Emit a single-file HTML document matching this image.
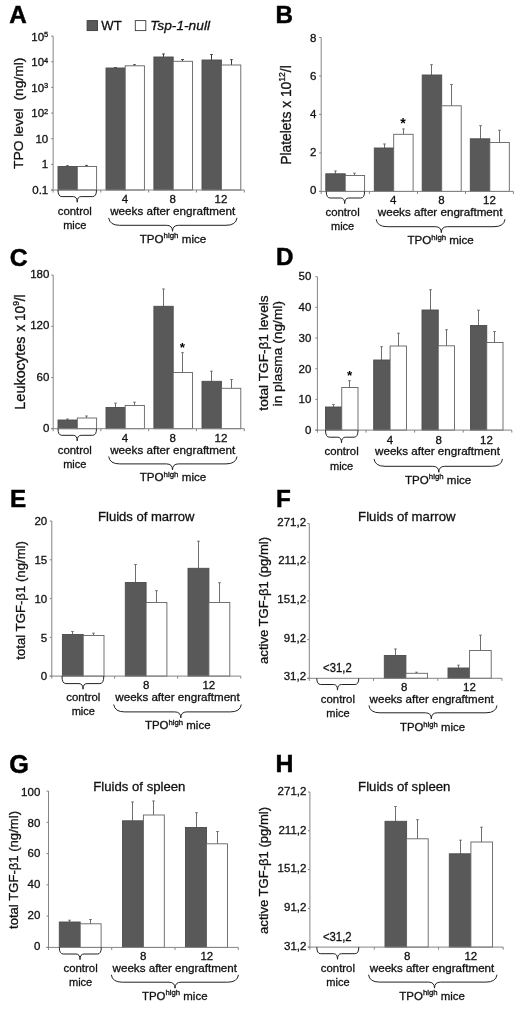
<!DOCTYPE html>
<html lang="en"><head><meta charset="utf-8"><title>Figure</title>
<style>html,body{margin:0;padding:0;background:#fff}svg{display:block}text{font-family:'Liberation Sans', sans-serif}</style>
</head><body>
<svg width="520" height="1010" viewBox="0 0 520 1010">
<rect width="520" height="1010" fill="#fff"/>
<!-- panel A -->
<line x1="67.5" y1="166.5" x2="67.5" y2="165.6" stroke="#3a3a3a" stroke-width="1"/>
<line x1="66.1" y1="165.8" x2="68.9" y2="165.8" stroke="#3a3a3a" stroke-width="0.9"/>
<rect x="58" y="166.5" width="19.3" height="23.5" fill="#595959" stroke="#4c4c4c" stroke-width="0.9"/>
<line x1="86.5" y1="166.5" x2="86.5" y2="165.2" stroke="#3a3a3a" stroke-width="1"/>
<line x1="85.1" y1="165.4" x2="87.9" y2="165.4" stroke="#3a3a3a" stroke-width="0.9"/>
<rect x="77.3" y="166.5" width="19.3" height="23.5" fill="#ffffff" stroke="#636363" stroke-width="0.9"/>
<line x1="115.5" y1="68" x2="115.5" y2="67.3" stroke="#3a3a3a" stroke-width="1"/>
<line x1="114.1" y1="67.5" x2="116.9" y2="67.5" stroke="#3a3a3a" stroke-width="0.9"/>
<rect x="106" y="68" width="19.2" height="122" fill="#595959" stroke="#4c4c4c" stroke-width="0.9"/>
<line x1="134.5" y1="65.8" x2="134.5" y2="64.5" stroke="#3a3a3a" stroke-width="1"/>
<line x1="133.1" y1="64.7" x2="135.9" y2="64.7" stroke="#3a3a3a" stroke-width="0.9"/>
<rect x="125.2" y="65.8" width="19.2" height="124.2" fill="#ffffff" stroke="#636363" stroke-width="0.9"/>
<line x1="163.5" y1="57" x2="163.5" y2="53.8" stroke="#3a3a3a" stroke-width="1"/>
<line x1="162.1" y1="54" x2="164.9" y2="54" stroke="#3a3a3a" stroke-width="0.9"/>
<rect x="153.9" y="57" width="19.3" height="133" fill="#595959" stroke="#4c4c4c" stroke-width="0.9"/>
<line x1="182.5" y1="61.3" x2="182.5" y2="59.3" stroke="#3a3a3a" stroke-width="1"/>
<line x1="181.1" y1="59.5" x2="183.9" y2="59.5" stroke="#3a3a3a" stroke-width="0.9"/>
<rect x="173.2" y="61.3" width="19.3" height="128.7" fill="#ffffff" stroke="#636363" stroke-width="0.9"/>
<line x1="211.5" y1="60" x2="211.5" y2="54.3" stroke="#3a3a3a" stroke-width="1"/>
<line x1="210.1" y1="54.5" x2="212.9" y2="54.5" stroke="#3a3a3a" stroke-width="0.9"/>
<rect x="202" y="60" width="19.4" height="130" fill="#595959" stroke="#4c4c4c" stroke-width="0.9"/>
<line x1="231.5" y1="65" x2="231.5" y2="59.5" stroke="#3a3a3a" stroke-width="1"/>
<line x1="230.1" y1="59.7" x2="232.9" y2="59.7" stroke="#3a3a3a" stroke-width="0.9"/>
<rect x="221.4" y="65" width="19.4" height="125" fill="#ffffff" stroke="#636363" stroke-width="0.9"/>
<line x1="53.15" y1="36.1" x2="53.15" y2="192.6" stroke="#848484" stroke-width="1"/>
<line x1="50.95" y1="190" x2="244.3" y2="190" stroke="#848484" stroke-width="1"/>
<line x1="51.15" y1="36.1" x2="53.15" y2="36.1" stroke="#848484" stroke-width="1"/>
<text x="48.25" y="40.8" font-size="11.5" text-anchor="end" fill="#111111" stroke="#111111" stroke-width="0.3">10<tspan font-size="7.5" dy="-3.7">5</tspan></text>
<line x1="51.15" y1="61.75" x2="53.15" y2="61.75" stroke="#848484" stroke-width="1"/>
<text x="48.25" y="66.27" font-size="11.5" text-anchor="end" fill="#111111" stroke="#111111" stroke-width="0.3">10<tspan font-size="7.5" dy="-3.7">4</tspan></text>
<line x1="51.15" y1="87.4" x2="53.15" y2="87.4" stroke="#848484" stroke-width="1"/>
<text x="48.25" y="91.73" font-size="11.5" text-anchor="end" fill="#111111" stroke="#111111" stroke-width="0.3">10<tspan font-size="7.5" dy="-3.7">3</tspan></text>
<line x1="51.15" y1="113.05" x2="53.15" y2="113.05" stroke="#848484" stroke-width="1"/>
<text x="48.25" y="117.2" font-size="11.5" text-anchor="end" fill="#111111" stroke="#111111" stroke-width="0.3">10<tspan font-size="7.5" dy="-3.7">2</tspan></text>
<line x1="51.15" y1="138.7" x2="53.15" y2="138.7" stroke="#848484" stroke-width="1"/>
<text x="48.25" y="142.67" font-size="11.5" text-anchor="end" fill="#111111" stroke="#111111" stroke-width="0.3">10</text>
<line x1="51.15" y1="164.35" x2="53.15" y2="164.35" stroke="#848484" stroke-width="1"/>
<text x="48.25" y="168.13" font-size="11.5" text-anchor="end" fill="#111111" stroke="#111111" stroke-width="0.3">1</text>
<line x1="51.15" y1="190" x2="53.15" y2="190" stroke="#848484" stroke-width="1"/>
<text x="48.25" y="193.6" font-size="11.5" text-anchor="end" fill="#111111" stroke="#111111" stroke-width="0.3">0.1</text>
<line x1="100.9" y1="190" x2="100.9" y2="192.5" stroke="#848484" stroke-width="1"/>
<line x1="148.7" y1="190" x2="148.7" y2="192.5" stroke="#848484" stroke-width="1"/>
<line x1="196.4" y1="190" x2="196.4" y2="192.5" stroke="#848484" stroke-width="1"/>
<line x1="244.3" y1="190" x2="244.3" y2="192.5" stroke="#848484" stroke-width="1"/>
<text x="9.35" y="23.35" font-size="24.2" text-anchor="start" fill="#000" stroke="#000" stroke-width="0.5" font-weight="bold">A</text>
<text x="23.5" y="113.3" font-size="13.5" text-anchor="middle" fill="#111111" stroke="#111111" stroke-width="0.3" textLength="111.5" lengthAdjust="spacingAndGlyphs" transform="rotate(-90 23.5 113.3)">TPO level&#160; (ng/ml)</text>
<path d="M58,190 Q58,196.6 61.9,196.6 L73.2,196.6 Q77.2,196.6 77.2,202.2 Q77.2,196.6 81.2,196.6 L92.6,196.6 Q96.5,196.6 96.5,190" fill="none" stroke="#222" stroke-width="1"/>
<text x="74.8" y="214.5" font-size="11.5" text-anchor="middle" fill="#111111" stroke="#111111" stroke-width="0.3" textLength="34.2" lengthAdjust="spacingAndGlyphs">control</text>
<text x="74.8" y="228.8" font-size="11.5" text-anchor="middle" fill="#111111" stroke="#111111" stroke-width="0.3" textLength="23.3" lengthAdjust="spacingAndGlyphs">mice</text>
<text x="125" y="202.8" font-size="11.5" text-anchor="middle" fill="#111111" stroke="#111111" stroke-width="0.3">4</text>
<text x="172.7" y="202.8" font-size="11.5" text-anchor="middle" fill="#111111" stroke="#111111" stroke-width="0.3">8</text>
<text x="221" y="202.8" font-size="11.5" text-anchor="middle" fill="#111111" stroke="#111111" stroke-width="0.3">12</text>
<text x="110.2" y="214.9" font-size="11.5" text-anchor="start" fill="#111111" stroke="#111111" stroke-width="0.3" textLength="125.1" lengthAdjust="spacingAndGlyphs">weeks after engraftment</text>
<path d="M108.7,217.9 Q109.7,225.3 119.7,225.3 L166.5,225.3 Q172.5,225.3 172.5,231.3 Q172.5,225.3 178.5,225.3 L226,225.3 Q236,225.3 237,217.9" fill="none" stroke="#222" stroke-width="1"/>
<text x="139.7" y="242.6" font-size="11.5" text-anchor="start" fill="#111111" stroke="#111111" stroke-width="0.3" textLength="66.6" lengthAdjust="spacingAndGlyphs">TPO<tspan font-size="7.8" dy="-4.2">high</tspan><tspan dy="4.2"> mice</tspan></text>
<rect x="87.1" y="20.6" width="10.4" height="10" fill="#595959" stroke="#3c3c3c" stroke-width="0.9"/>
<text x="101.3" y="30.2" font-size="13" text-anchor="start" fill="#111111" stroke="#111111" stroke-width="0.3" textLength="20.4" lengthAdjust="spacingAndGlyphs">WT</text>
<rect x="135.3" y="20.6" width="10.5" height="10" fill="#fff" stroke="#3c3c3c" stroke-width="0.9"/>
<text x="150.2" y="30.2" font-size="13" text-anchor="start" fill="#111111" stroke="#111111" stroke-width="0.3" textLength="59.8" lengthAdjust="spacingAndGlyphs" font-style="italic">Tsp-1-null</text>
<!-- panel B -->
<line x1="335.5" y1="173.8" x2="335.5" y2="170.8" stroke="#6e6e6e" stroke-width="1"/>
<line x1="334.1" y1="171" x2="336.9" y2="171" stroke="#6e6e6e" stroke-width="0.9"/>
<rect x="325.8" y="173.8" width="19.4" height="17.6" fill="#595959" stroke="#4c4c4c" stroke-width="0.9"/>
<line x1="354.5" y1="175.5" x2="354.5" y2="173" stroke="#6e6e6e" stroke-width="1"/>
<line x1="353.1" y1="173.2" x2="355.9" y2="173.2" stroke="#6e6e6e" stroke-width="0.9"/>
<rect x="345.2" y="175.5" width="19.4" height="15.9" fill="#ffffff" stroke="#636363" stroke-width="0.9"/>
<line x1="384.5" y1="148" x2="384.5" y2="143.8" stroke="#6e6e6e" stroke-width="1"/>
<line x1="383.1" y1="144" x2="385.9" y2="144" stroke="#6e6e6e" stroke-width="0.9"/>
<rect x="374.3" y="148" width="19.4" height="43.4" fill="#595959" stroke="#4c4c4c" stroke-width="0.9"/>
<line x1="403.5" y1="134.3" x2="403.5" y2="128.8" stroke="#6e6e6e" stroke-width="1"/>
<line x1="402.1" y1="129" x2="404.9" y2="129" stroke="#6e6e6e" stroke-width="0.9"/>
<rect x="393.7" y="134.3" width="19.4" height="57.1" fill="#ffffff" stroke="#636363" stroke-width="0.9"/>
<line x1="431.5" y1="75" x2="431.5" y2="64.5" stroke="#6e6e6e" stroke-width="1"/>
<line x1="430.1" y1="64.7" x2="432.9" y2="64.7" stroke="#6e6e6e" stroke-width="0.9"/>
<rect x="422.2" y="75" width="19.5" height="116.4" fill="#595959" stroke="#4c4c4c" stroke-width="0.9"/>
<line x1="451.5" y1="105.8" x2="451.5" y2="84.3" stroke="#6e6e6e" stroke-width="1"/>
<line x1="450.1" y1="84.5" x2="452.9" y2="84.5" stroke="#6e6e6e" stroke-width="0.9"/>
<rect x="441.7" y="105.8" width="19.5" height="85.6" fill="#ffffff" stroke="#636363" stroke-width="0.9"/>
<line x1="480.5" y1="138.8" x2="480.5" y2="125.5" stroke="#6e6e6e" stroke-width="1"/>
<line x1="479.1" y1="125.7" x2="481.9" y2="125.7" stroke="#6e6e6e" stroke-width="0.9"/>
<rect x="470.3" y="138.8" width="19.5" height="52.6" fill="#595959" stroke="#4c4c4c" stroke-width="0.9"/>
<line x1="499.5" y1="142.5" x2="499.5" y2="130" stroke="#6e6e6e" stroke-width="1"/>
<line x1="498.1" y1="130.2" x2="500.9" y2="130.2" stroke="#6e6e6e" stroke-width="0.9"/>
<rect x="489.8" y="142.5" width="19.5" height="48.9" fill="#ffffff" stroke="#636363" stroke-width="0.9"/>
<line x1="321.2" y1="37.5" x2="321.2" y2="194" stroke="#848484" stroke-width="1"/>
<line x1="319" y1="191.4" x2="513.4" y2="191.4" stroke="#848484" stroke-width="1"/>
<line x1="319.2" y1="37.5" x2="321.2" y2="37.5" stroke="#848484" stroke-width="1"/>
<text x="316.3" y="41.5" font-size="11.5" text-anchor="end" fill="#111111" stroke="#111111" stroke-width="0.3">8</text>
<line x1="319.2" y1="75.97" x2="321.2" y2="75.97" stroke="#848484" stroke-width="1"/>
<text x="316.3" y="79.67" font-size="11.5" text-anchor="end" fill="#111111" stroke="#111111" stroke-width="0.3">6</text>
<line x1="319.2" y1="114.45" x2="321.2" y2="114.45" stroke="#848484" stroke-width="1"/>
<text x="316.3" y="117.85" font-size="11.5" text-anchor="end" fill="#111111" stroke="#111111" stroke-width="0.3">4</text>
<line x1="319.2" y1="152.93" x2="321.2" y2="152.93" stroke="#848484" stroke-width="1"/>
<text x="316.3" y="156.02" font-size="11.5" text-anchor="end" fill="#111111" stroke="#111111" stroke-width="0.3">2</text>
<line x1="319.2" y1="191.4" x2="321.2" y2="191.4" stroke="#848484" stroke-width="1"/>
<text x="316.3" y="194.2" font-size="11.5" text-anchor="end" fill="#111111" stroke="#111111" stroke-width="0.3">0</text>
<line x1="369.4" y1="191.4" x2="369.4" y2="193.9" stroke="#848484" stroke-width="1"/>
<line x1="417.5" y1="191.4" x2="417.5" y2="193.9" stroke="#848484" stroke-width="1"/>
<line x1="465.5" y1="191.4" x2="465.5" y2="193.9" stroke="#848484" stroke-width="1"/>
<line x1="513.4" y1="191.4" x2="513.4" y2="193.9" stroke="#848484" stroke-width="1"/>
<text x="275.5" y="22.85" font-size="24.2" text-anchor="start" fill="#000" stroke="#000" stroke-width="0.5" font-weight="bold">B</text>
<text x="290.9" y="115" font-size="15" text-anchor="middle" fill="#111111" stroke="#111111" stroke-width="0.3" textLength="99.5" lengthAdjust="spacingAndGlyphs" transform="rotate(-90 290.9 115)">Platelets x 10<tspan font-size="9.3" dy="-5.6">12</tspan><tspan dy="5.6">/l</tspan></text>
<path d="M326.3,191.4 Q326.3,198 330.2,198 L340.7,198 Q344.7,198 344.7,203.6 Q344.7,198 348.7,198 L360.7,198 Q364.6,198 364.6,191.4" fill="none" stroke="#222" stroke-width="1"/>
<text x="342.6" y="215.9" font-size="11.5" text-anchor="middle" fill="#111111" stroke="#111111" stroke-width="0.3" textLength="34.2" lengthAdjust="spacingAndGlyphs">control</text>
<text x="342.6" y="230.1" font-size="11.5" text-anchor="middle" fill="#111111" stroke="#111111" stroke-width="0.3" textLength="23.3" lengthAdjust="spacingAndGlyphs">mice</text>
<text x="393.3" y="204.3" font-size="11.5" text-anchor="middle" fill="#111111" stroke="#111111" stroke-width="0.3">4</text>
<text x="441.5" y="204.3" font-size="11.5" text-anchor="middle" fill="#111111" stroke="#111111" stroke-width="0.3">8</text>
<text x="489.5" y="204.3" font-size="11.5" text-anchor="middle" fill="#111111" stroke="#111111" stroke-width="0.3">12</text>
<text x="377.8" y="216.1" font-size="11.5" text-anchor="start" fill="#111111" stroke="#111111" stroke-width="0.3" textLength="124.7" lengthAdjust="spacingAndGlyphs">weeks after engraftment</text>
<path d="M376.2,219.3 Q377.2,226.7 387.2,226.7 L435.3,226.7 Q441.3,226.7 441.3,232.7 Q441.3,226.7 447.3,226.7 L494,226.7 Q504,226.7 505,219.3" fill="none" stroke="#222" stroke-width="1"/>
<text x="407.5" y="244.1" font-size="11.5" text-anchor="start" fill="#111111" stroke="#111111" stroke-width="0.3" textLength="66.3" lengthAdjust="spacingAndGlyphs">TPO<tspan font-size="7.8" dy="-4.2">high</tspan><tspan dy="4.2"> mice</tspan></text>
<text x="402.9" y="128.33" font-size="14.2" text-anchor="middle" fill="#000" font-weight="bold">*</text>
<!-- panel C -->
<line x1="67.5" y1="420" x2="67.5" y2="418.8" stroke="#6e6e6e" stroke-width="1"/>
<line x1="66.1" y1="419" x2="68.9" y2="419" stroke="#6e6e6e" stroke-width="0.9"/>
<rect x="58" y="420" width="19.3" height="8.7" fill="#595959" stroke="#4c4c4c" stroke-width="0.9"/>
<line x1="86.5" y1="418" x2="86.5" y2="415.8" stroke="#6e6e6e" stroke-width="1"/>
<line x1="85.1" y1="416" x2="87.9" y2="416" stroke="#6e6e6e" stroke-width="0.9"/>
<rect x="77.3" y="418" width="19.3" height="10.7" fill="#ffffff" stroke="#636363" stroke-width="0.9"/>
<line x1="115.5" y1="407.5" x2="115.5" y2="403" stroke="#6e6e6e" stroke-width="1"/>
<line x1="114.1" y1="403.2" x2="116.9" y2="403.2" stroke="#6e6e6e" stroke-width="0.9"/>
<rect x="106" y="407.5" width="19.2" height="21.2" fill="#595959" stroke="#4c4c4c" stroke-width="0.9"/>
<line x1="134.5" y1="405.5" x2="134.5" y2="402" stroke="#6e6e6e" stroke-width="1"/>
<line x1="133.1" y1="402.2" x2="135.9" y2="402.2" stroke="#6e6e6e" stroke-width="0.9"/>
<rect x="125.2" y="405.5" width="19.2" height="23.2" fill="#ffffff" stroke="#636363" stroke-width="0.9"/>
<line x1="163.5" y1="306.3" x2="163.5" y2="288.8" stroke="#6e6e6e" stroke-width="1"/>
<line x1="162.1" y1="289" x2="164.9" y2="289" stroke="#6e6e6e" stroke-width="0.9"/>
<rect x="153.9" y="306.3" width="19.3" height="122.4" fill="#595959" stroke="#4c4c4c" stroke-width="0.9"/>
<line x1="182.5" y1="372.5" x2="182.5" y2="352.5" stroke="#6e6e6e" stroke-width="1"/>
<line x1="181.1" y1="352.7" x2="183.9" y2="352.7" stroke="#6e6e6e" stroke-width="0.9"/>
<rect x="173.2" y="372.5" width="19.3" height="56.2" fill="#ffffff" stroke="#636363" stroke-width="0.9"/>
<line x1="211.5" y1="381.3" x2="211.5" y2="371" stroke="#6e6e6e" stroke-width="1"/>
<line x1="210.1" y1="371.2" x2="212.9" y2="371.2" stroke="#6e6e6e" stroke-width="0.9"/>
<rect x="202" y="381.3" width="19.4" height="47.4" fill="#595959" stroke="#4c4c4c" stroke-width="0.9"/>
<line x1="231.5" y1="388.3" x2="231.5" y2="379.3" stroke="#6e6e6e" stroke-width="1"/>
<line x1="230.1" y1="379.5" x2="232.9" y2="379.5" stroke="#6e6e6e" stroke-width="0.9"/>
<rect x="221.4" y="388.3" width="19.4" height="40.4" fill="#ffffff" stroke="#636363" stroke-width="0.9"/>
<line x1="53.2" y1="275.1" x2="53.2" y2="431.3" stroke="#848484" stroke-width="1"/>
<line x1="51" y1="428.7" x2="244.3" y2="428.7" stroke="#848484" stroke-width="1"/>
<line x1="51.2" y1="275.1" x2="53.2" y2="275.1" stroke="#848484" stroke-width="1"/>
<text x="49.4" y="277.7" font-size="11.5" text-anchor="end" fill="#111111" stroke="#111111" stroke-width="0.3">180</text>
<line x1="51.2" y1="326.3" x2="53.2" y2="326.3" stroke="#848484" stroke-width="1"/>
<text x="49.4" y="329.1" font-size="11.5" text-anchor="end" fill="#111111" stroke="#111111" stroke-width="0.3">120</text>
<line x1="51.2" y1="377.5" x2="53.2" y2="377.5" stroke="#848484" stroke-width="1"/>
<text x="49.4" y="380.5" font-size="11.5" text-anchor="end" fill="#111111" stroke="#111111" stroke-width="0.3">60</text>
<line x1="51.2" y1="428.7" x2="53.2" y2="428.7" stroke="#848484" stroke-width="1"/>
<text x="49.4" y="431.9" font-size="11.5" text-anchor="end" fill="#111111" stroke="#111111" stroke-width="0.3">0</text>
<line x1="100.9" y1="428.7" x2="100.9" y2="431.2" stroke="#848484" stroke-width="1"/>
<line x1="148.7" y1="428.7" x2="148.7" y2="431.2" stroke="#848484" stroke-width="1"/>
<line x1="196.4" y1="428.7" x2="196.4" y2="431.2" stroke="#848484" stroke-width="1"/>
<line x1="244.3" y1="428.7" x2="244.3" y2="431.2" stroke="#848484" stroke-width="1"/>
<text x="9.65" y="265.9" font-size="24.8" text-anchor="start" fill="#000" stroke="#000" stroke-width="0.5" font-weight="bold">C</text>
<text x="24.7" y="373.1" font-size="14.2" text-anchor="middle" fill="#111111" stroke="#111111" stroke-width="0.3" textLength="73.2" lengthAdjust="spacingAndGlyphs" transform="rotate(-90 24.7 373.1)">Leukocytes</text>
<text x="24.7" y="312.9" font-size="14.2" text-anchor="middle" fill="#111111" stroke="#111111" stroke-width="0.3" textLength="37" lengthAdjust="spacingAndGlyphs" transform="rotate(-90 24.7 312.9)">x 10<tspan font-size="8.8" dy="-5.6">9</tspan><tspan dy="5.6">/l</tspan></text>
<path d="M58,428.7 Q58,435.3 61.9,435.3 L73.2,435.3 Q77.2,435.3 77.2,440.9 Q77.2,435.3 81.2,435.3 L92.6,435.3 Q96.5,435.3 96.5,428.7" fill="none" stroke="#222" stroke-width="1"/>
<text x="74.8" y="453.9" font-size="11.5" text-anchor="middle" fill="#111111" stroke="#111111" stroke-width="0.3" textLength="34.2" lengthAdjust="spacingAndGlyphs">control</text>
<text x="74.8" y="467.9" font-size="11.5" text-anchor="middle" fill="#111111" stroke="#111111" stroke-width="0.3" textLength="23.3" lengthAdjust="spacingAndGlyphs">mice</text>
<text x="125" y="441.5" font-size="11.5" text-anchor="middle" fill="#111111" stroke="#111111" stroke-width="0.3">4</text>
<text x="172.7" y="441.5" font-size="11.5" text-anchor="middle" fill="#111111" stroke="#111111" stroke-width="0.3">8</text>
<text x="221" y="441.5" font-size="11.5" text-anchor="middle" fill="#111111" stroke="#111111" stroke-width="0.3">12</text>
<text x="110.2" y="453.6" font-size="11.5" text-anchor="start" fill="#111111" stroke="#111111" stroke-width="0.3" textLength="125.1" lengthAdjust="spacingAndGlyphs">weeks after engraftment</text>
<path d="M108.7,456.5 Q109.7,463.9 119.7,463.9 L166.5,463.9 Q172.5,463.9 172.5,469.9 Q172.5,463.9 178.5,463.9 L226,463.9 Q236,463.9 237,456.5" fill="none" stroke="#222" stroke-width="1"/>
<text x="139.7" y="481.3" font-size="11.5" text-anchor="start" fill="#111111" stroke="#111111" stroke-width="0.3" textLength="66.6" lengthAdjust="spacingAndGlyphs">TPO<tspan font-size="7.8" dy="-4.2">high</tspan><tspan dy="4.2"> mice</tspan></text>
<text x="182.5" y="351.56" font-size="13.5" text-anchor="middle" fill="#000" font-weight="bold">*</text>
<!-- panel D -->
<line x1="333.5" y1="407" x2="333.5" y2="404.3" stroke="#6e6e6e" stroke-width="1"/>
<line x1="332.1" y1="404.5" x2="334.9" y2="404.5" stroke="#6e6e6e" stroke-width="0.9"/>
<rect x="325.5" y="407" width="16.25" height="23.1" fill="#595959" stroke="#4c4c4c" stroke-width="0.9"/>
<line x1="349.5" y1="387.5" x2="349.5" y2="380.5" stroke="#6e6e6e" stroke-width="1"/>
<line x1="348.1" y1="380.7" x2="350.9" y2="380.7" stroke="#6e6e6e" stroke-width="0.9"/>
<rect x="341.75" y="387.5" width="16.25" height="42.6" fill="#ffffff" stroke="#636363" stroke-width="0.9"/>
<line x1="381.5" y1="360" x2="381.5" y2="346.5" stroke="#6e6e6e" stroke-width="1"/>
<line x1="380.1" y1="346.7" x2="382.9" y2="346.7" stroke="#6e6e6e" stroke-width="0.9"/>
<rect x="373.7" y="360" width="16.4" height="70.1" fill="#595959" stroke="#4c4c4c" stroke-width="0.9"/>
<line x1="398.5" y1="346" x2="398.5" y2="333" stroke="#6e6e6e" stroke-width="1"/>
<line x1="397.1" y1="333.2" x2="399.9" y2="333.2" stroke="#6e6e6e" stroke-width="0.9"/>
<rect x="390.1" y="346" width="16.4" height="84.1" fill="#ffffff" stroke="#636363" stroke-width="0.9"/>
<line x1="430.5" y1="310" x2="430.5" y2="289.5" stroke="#6e6e6e" stroke-width="1"/>
<line x1="429.1" y1="289.7" x2="431.9" y2="289.7" stroke="#6e6e6e" stroke-width="0.9"/>
<rect x="422" y="310" width="16.25" height="120.1" fill="#595959" stroke="#4c4c4c" stroke-width="0.9"/>
<line x1="446.5" y1="345.8" x2="446.5" y2="329.5" stroke="#6e6e6e" stroke-width="1"/>
<line x1="445.1" y1="329.7" x2="447.9" y2="329.7" stroke="#6e6e6e" stroke-width="0.9"/>
<rect x="438.25" y="345.8" width="16.25" height="84.3" fill="#ffffff" stroke="#636363" stroke-width="0.9"/>
<line x1="478.5" y1="325.5" x2="478.5" y2="310" stroke="#6e6e6e" stroke-width="1"/>
<line x1="477.1" y1="310.2" x2="479.9" y2="310.2" stroke="#6e6e6e" stroke-width="0.9"/>
<rect x="470.5" y="325.5" width="16.25" height="104.6" fill="#595959" stroke="#4c4c4c" stroke-width="0.9"/>
<line x1="494.5" y1="342.5" x2="494.5" y2="331.3" stroke="#6e6e6e" stroke-width="1"/>
<line x1="493.1" y1="331.5" x2="495.9" y2="331.5" stroke="#6e6e6e" stroke-width="0.9"/>
<rect x="486.75" y="342.5" width="16.25" height="87.6" fill="#ffffff" stroke="#636363" stroke-width="0.9"/>
<line x1="317.4" y1="276.7" x2="317.4" y2="432.7" stroke="#848484" stroke-width="1"/>
<line x1="315.2" y1="430.1" x2="511.8" y2="430.1" stroke="#848484" stroke-width="1"/>
<line x1="315.4" y1="276.7" x2="317.4" y2="276.7" stroke="#848484" stroke-width="1"/>
<text x="311.4" y="280.2" font-size="11.5" text-anchor="end" fill="#111111" stroke="#111111" stroke-width="0.3">50</text>
<line x1="315.4" y1="307.38" x2="317.4" y2="307.38" stroke="#848484" stroke-width="1"/>
<text x="311.4" y="310.98" font-size="11.5" text-anchor="end" fill="#111111" stroke="#111111" stroke-width="0.3">40</text>
<line x1="315.4" y1="338.06" x2="317.4" y2="338.06" stroke="#848484" stroke-width="1"/>
<text x="311.4" y="341.76" font-size="11.5" text-anchor="end" fill="#111111" stroke="#111111" stroke-width="0.3">30</text>
<line x1="315.4" y1="368.74" x2="317.4" y2="368.74" stroke="#848484" stroke-width="1"/>
<text x="311.4" y="372.54" font-size="11.5" text-anchor="end" fill="#111111" stroke="#111111" stroke-width="0.3">20</text>
<line x1="315.4" y1="399.42" x2="317.4" y2="399.42" stroke="#848484" stroke-width="1"/>
<text x="311.4" y="403.32" font-size="11.5" text-anchor="end" fill="#111111" stroke="#111111" stroke-width="0.3">10</text>
<line x1="315.4" y1="430.1" x2="317.4" y2="430.1" stroke="#848484" stroke-width="1"/>
<text x="311.4" y="434.1" font-size="11.5" text-anchor="end" fill="#111111" stroke="#111111" stroke-width="0.3">0</text>
<line x1="366" y1="430.1" x2="366" y2="432.6" stroke="#848484" stroke-width="1"/>
<line x1="414.6" y1="430.1" x2="414.6" y2="432.6" stroke="#848484" stroke-width="1"/>
<line x1="463.2" y1="430.1" x2="463.2" y2="432.6" stroke="#848484" stroke-width="1"/>
<line x1="511.8" y1="430.1" x2="511.8" y2="432.6" stroke="#848484" stroke-width="1"/>
<text x="276.1" y="265.2" font-size="24.2" text-anchor="start" fill="#000" stroke="#000" stroke-width="0.5" font-weight="bold">D</text>
<text x="267.6" y="353" font-size="13.4" text-anchor="middle" fill="#111111" stroke="#111111" stroke-width="0.3" textLength="115.3" lengthAdjust="spacingAndGlyphs" transform="rotate(-90 267.6 353)">total TGF-β1 levels</text>
<text x="282.4" y="353.7" font-size="13.4" text-anchor="middle" fill="#111111" stroke="#111111" stroke-width="0.3" textLength="105.4" lengthAdjust="spacingAndGlyphs" transform="rotate(-90 282.4 353.7)">in plasma (ng/ml)</text>
<path d="M325.5,430.1 Q325.5,437.2 329.4,437.2 L337.5,437.2 Q341.5,437.2 341.5,442.8 Q341.5,437.2 345.5,437.2 L354.1,437.2 Q358,437.2 358,430.1" fill="none" stroke="#222" stroke-width="1"/>
<text x="341.6" y="455.2" font-size="11.5" text-anchor="middle" fill="#111111" stroke="#111111" stroke-width="0.3" textLength="34.2" lengthAdjust="spacingAndGlyphs">control</text>
<text x="341.6" y="469.9" font-size="11.5" text-anchor="middle" fill="#111111" stroke="#111111" stroke-width="0.3" textLength="23.3" lengthAdjust="spacingAndGlyphs">mice</text>
<text x="390" y="443.5" font-size="11.5" text-anchor="middle" fill="#111111" stroke="#111111" stroke-width="0.3">4</text>
<text x="438.6" y="443.5" font-size="11.5" text-anchor="middle" fill="#111111" stroke="#111111" stroke-width="0.3">8</text>
<text x="486.5" y="443.5" font-size="11.5" text-anchor="middle" fill="#111111" stroke="#111111" stroke-width="0.3">12</text>
<text x="375" y="455.4" font-size="11.5" text-anchor="start" fill="#111111" stroke="#111111" stroke-width="0.3" textLength="125" lengthAdjust="spacingAndGlyphs">weeks after engraftment</text>
<path d="M374,458.9 Q375,466.3 385,466.3 L432.8,466.3 Q438.8,466.3 438.8,472.3 Q438.8,466.3 444.8,466.3 L491.5,466.3 Q501.5,466.3 502.5,458.9" fill="none" stroke="#222" stroke-width="1"/>
<text x="405" y="483.5" font-size="11.5" text-anchor="start" fill="#111111" stroke="#111111" stroke-width="0.3" textLength="66.3" lengthAdjust="spacingAndGlyphs">TPO<tspan font-size="7.8" dy="-4.2">high</tspan><tspan dy="4.2"> mice</tspan></text>
<text x="349.6" y="380.16" font-size="13.5" text-anchor="middle" fill="#000" font-weight="bold">*</text>
<!-- panel E -->
<line x1="72.5" y1="634.5" x2="72.5" y2="631.3" stroke="#6e6e6e" stroke-width="1"/>
<line x1="71.1" y1="631.5" x2="73.9" y2="631.5" stroke="#6e6e6e" stroke-width="0.9"/>
<rect x="62.4" y="634.5" width="20.8" height="41.6" fill="#595959" stroke="#4c4c4c" stroke-width="0.9"/>
<line x1="93.5" y1="635.5" x2="93.5" y2="633" stroke="#6e6e6e" stroke-width="1"/>
<line x1="92.1" y1="633.2" x2="94.9" y2="633.2" stroke="#6e6e6e" stroke-width="0.9"/>
<rect x="83.2" y="635.5" width="20.8" height="40.6" fill="#ffffff" stroke="#636363" stroke-width="0.9"/>
<line x1="135.5" y1="582.5" x2="135.5" y2="564.3" stroke="#6e6e6e" stroke-width="1"/>
<line x1="134.1" y1="564.5" x2="136.9" y2="564.5" stroke="#6e6e6e" stroke-width="0.9"/>
<rect x="125.3" y="582.5" width="20.8" height="93.6" fill="#595959" stroke="#4c4c4c" stroke-width="0.9"/>
<line x1="156.5" y1="602.5" x2="156.5" y2="590.5" stroke="#6e6e6e" stroke-width="1"/>
<line x1="155.1" y1="590.7" x2="157.9" y2="590.7" stroke="#6e6e6e" stroke-width="0.9"/>
<rect x="146.1" y="602.5" width="20.8" height="73.6" fill="#ffffff" stroke="#636363" stroke-width="0.9"/>
<line x1="198.5" y1="568.3" x2="198.5" y2="541" stroke="#6e6e6e" stroke-width="1"/>
<line x1="197.1" y1="541.2" x2="199.9" y2="541.2" stroke="#6e6e6e" stroke-width="0.9"/>
<rect x="188" y="568.3" width="20.9" height="107.8" fill="#595959" stroke="#4c4c4c" stroke-width="0.9"/>
<line x1="219.5" y1="602.5" x2="219.5" y2="582.5" stroke="#6e6e6e" stroke-width="1"/>
<line x1="218.1" y1="582.7" x2="220.9" y2="582.7" stroke="#6e6e6e" stroke-width="0.9"/>
<rect x="208.9" y="602.5" width="20.9" height="73.6" fill="#ffffff" stroke="#636363" stroke-width="0.9"/>
<line x1="51.8" y1="521.05" x2="51.8" y2="678.7" stroke="#848484" stroke-width="1"/>
<line x1="49.6" y1="676.1" x2="240.8" y2="676.1" stroke="#848484" stroke-width="1"/>
<line x1="49.8" y1="521.05" x2="51.8" y2="521.05" stroke="#848484" stroke-width="1"/>
<text x="47.2" y="525.3" font-size="11.5" text-anchor="end" fill="#111111" stroke="#111111" stroke-width="0.3">20</text>
<line x1="49.8" y1="559.81" x2="51.8" y2="559.81" stroke="#848484" stroke-width="1"/>
<text x="47.2" y="564.05" font-size="11.5" text-anchor="end" fill="#111111" stroke="#111111" stroke-width="0.3">15</text>
<line x1="49.8" y1="598.58" x2="51.8" y2="598.58" stroke="#848484" stroke-width="1"/>
<text x="47.2" y="602.8" font-size="11.5" text-anchor="end" fill="#111111" stroke="#111111" stroke-width="0.3">10</text>
<line x1="49.8" y1="637.34" x2="51.8" y2="637.34" stroke="#848484" stroke-width="1"/>
<text x="47.2" y="641.55" font-size="11.5" text-anchor="end" fill="#111111" stroke="#111111" stroke-width="0.3">5</text>
<line x1="49.8" y1="676.1" x2="51.8" y2="676.1" stroke="#848484" stroke-width="1"/>
<text x="47.2" y="680.3" font-size="11.5" text-anchor="end" fill="#111111" stroke="#111111" stroke-width="0.3">0</text>
<line x1="114.6" y1="676.1" x2="114.6" y2="678.6" stroke="#848484" stroke-width="1"/>
<line x1="177.6" y1="676.1" x2="177.6" y2="678.6" stroke="#848484" stroke-width="1"/>
<line x1="240.8" y1="676.1" x2="240.8" y2="678.6" stroke="#848484" stroke-width="1"/>
<text x="10" y="506.75" font-size="24.2" text-anchor="start" fill="#000" stroke="#000" stroke-width="0.5" font-weight="bold">E</text>
<text x="24.6" y="600.4" font-size="13.2" text-anchor="middle" fill="#111111" stroke="#111111" stroke-width="0.3" textLength="118.7" lengthAdjust="spacingAndGlyphs" transform="rotate(-90 24.6 600.4)">total TGF-β1 (ng/ml)</text>
<text x="98" y="521.3" font-size="13" text-anchor="start" fill="#111111" stroke="#111111" stroke-width="0.3" textLength="96.5" lengthAdjust="spacingAndGlyphs">Fluids of marrow</text>
<path d="M62,676.1 Q62,683.6 65.9,683.6 L79,683.6 Q83,683.6 83,689.2 Q83,683.6 87,683.6 L99.9,683.6 Q103.8,683.6 103.8,676.1" fill="none" stroke="#222" stroke-width="1"/>
<text x="83.3" y="700.9" font-size="11.5" text-anchor="middle" fill="#111111" stroke="#111111" stroke-width="0.3" textLength="34.2" lengthAdjust="spacingAndGlyphs">control</text>
<text x="83.3" y="715.4" font-size="11.5" text-anchor="middle" fill="#111111" stroke="#111111" stroke-width="0.3" textLength="23.3" lengthAdjust="spacingAndGlyphs">mice</text>
<text x="146.3" y="688.5" font-size="11.5" text-anchor="middle" fill="#111111" stroke="#111111" stroke-width="0.3">8</text>
<text x="208.8" y="688.5" font-size="11.5" text-anchor="middle" fill="#111111" stroke="#111111" stroke-width="0.3">12</text>
<text x="115.3" y="701.3" font-size="11.5" text-anchor="start" fill="#111111" stroke="#111111" stroke-width="0.3" textLength="124.5" lengthAdjust="spacingAndGlyphs">weeks after engraftment</text>
<path d="M113.7,704.5 Q114.7,711.9 124.7,711.9 L174.8,711.9 Q180.8,711.9 180.8,717.9 Q180.8,711.9 186.8,711.9 L230.3,711.9 Q240.3,711.9 241.3,704.5" fill="none" stroke="#222" stroke-width="1"/>
<text x="145" y="728.8" font-size="11.5" text-anchor="start" fill="#111111" stroke="#111111" stroke-width="0.3" textLength="65.5" lengthAdjust="spacingAndGlyphs">TPO<tspan font-size="7.8" dy="-4.2">high</tspan><tspan dy="4.2"> mice</tspan></text>
<!-- panel F -->
<line x1="395.5" y1="655.5" x2="395.5" y2="648.8" stroke="#6e6e6e" stroke-width="1"/>
<line x1="394.1" y1="649" x2="396.9" y2="649" stroke="#6e6e6e" stroke-width="0.9"/>
<rect x="384.3" y="655.5" width="21.6" height="22.8" fill="#595959" stroke="#4c4c4c" stroke-width="0.9"/>
<line x1="416.5" y1="673.3" x2="416.5" y2="672" stroke="#6e6e6e" stroke-width="1"/>
<line x1="415.1" y1="672.2" x2="417.9" y2="672.2" stroke="#6e6e6e" stroke-width="0.9"/>
<rect x="405.9" y="673.3" width="21.6" height="5" fill="#ffffff" stroke="#636363" stroke-width="0.9"/>
<line x1="458.5" y1="668" x2="458.5" y2="665" stroke="#6e6e6e" stroke-width="1"/>
<line x1="457.1" y1="665.2" x2="459.9" y2="665.2" stroke="#6e6e6e" stroke-width="0.9"/>
<rect x="448" y="668" width="21.6" height="10.3" fill="#595959" stroke="#4c4c4c" stroke-width="0.9"/>
<line x1="480.5" y1="650.5" x2="480.5" y2="635" stroke="#6e6e6e" stroke-width="1"/>
<line x1="479.1" y1="635.2" x2="481.9" y2="635.2" stroke="#6e6e6e" stroke-width="0.9"/>
<rect x="469.6" y="650.5" width="21.6" height="27.8" fill="#ffffff" stroke="#636363" stroke-width="0.9"/>
<line x1="309.3" y1="523.6" x2="309.3" y2="680.9" stroke="#848484" stroke-width="1"/>
<line x1="307.1" y1="678.3" x2="502" y2="678.3" stroke="#848484" stroke-width="1"/>
<line x1="307.3" y1="523.6" x2="309.3" y2="523.6" stroke="#848484" stroke-width="1"/>
<text x="306.1" y="525.6" font-size="11.5" text-anchor="end" fill="#111111" stroke="#111111" stroke-width="0.3">271,2</text>
<line x1="307.3" y1="562.27" x2="309.3" y2="562.27" stroke="#848484" stroke-width="1"/>
<text x="306.1" y="564.25" font-size="11.5" text-anchor="end" fill="#111111" stroke="#111111" stroke-width="0.3">211,2</text>
<line x1="307.3" y1="600.95" x2="309.3" y2="600.95" stroke="#848484" stroke-width="1"/>
<text x="306.1" y="602.9" font-size="11.5" text-anchor="end" fill="#111111" stroke="#111111" stroke-width="0.3">151,2</text>
<line x1="307.3" y1="639.62" x2="309.3" y2="639.62" stroke="#848484" stroke-width="1"/>
<text x="306.1" y="641.55" font-size="11.5" text-anchor="end" fill="#111111" stroke="#111111" stroke-width="0.3">91,2</text>
<line x1="307.3" y1="678.3" x2="309.3" y2="678.3" stroke="#848484" stroke-width="1"/>
<text x="306.1" y="680.2" font-size="11.5" text-anchor="end" fill="#111111" stroke="#111111" stroke-width="0.3">31,2</text>
<line x1="373.5" y1="678.3" x2="373.5" y2="680.8" stroke="#848484" stroke-width="1"/>
<line x1="437.8" y1="678.3" x2="437.8" y2="680.8" stroke="#848484" stroke-width="1"/>
<line x1="502" y1="678.3" x2="502" y2="680.8" stroke="#848484" stroke-width="1"/>
<text x="275.9" y="506.75" font-size="24.2" text-anchor="start" fill="#000" stroke="#000" stroke-width="0.5" font-weight="bold">F</text>
<text x="268.5" y="600.4" font-size="13.1" text-anchor="middle" fill="#111111" stroke="#111111" stroke-width="0.3" textLength="127" lengthAdjust="spacingAndGlyphs" transform="rotate(-90 268.5 600.4)">active TGF-β1 (pg/ml)</text>
<text x="358.1" y="521.3" font-size="13" text-anchor="start" fill="#111111" stroke="#111111" stroke-width="0.3" textLength="97.5" lengthAdjust="spacingAndGlyphs">Fluids of marrow</text>
<path d="M316.8,678.3 Q316.8,684.5 320.7,684.5 L333.5,684.5 Q337.5,684.5 337.5,690.1 Q337.5,684.5 341.5,684.5 L354.9,684.5 Q358.8,684.5 358.8,678.3" fill="none" stroke="#222" stroke-width="1"/>
<text x="337.9" y="703.3" font-size="11.5" text-anchor="middle" fill="#111111" stroke="#111111" stroke-width="0.3" textLength="34.2" lengthAdjust="spacingAndGlyphs">control</text>
<text x="337.9" y="717.1" font-size="11.5" text-anchor="middle" fill="#111111" stroke="#111111" stroke-width="0.3" textLength="23.3" lengthAdjust="spacingAndGlyphs">mice</text>
<text x="404.3" y="691.2" font-size="11.5" text-anchor="middle" fill="#111111" stroke="#111111" stroke-width="0.3">8</text>
<text x="469.5" y="691.2" font-size="11.5" text-anchor="middle" fill="#111111" stroke="#111111" stroke-width="0.3">12</text>
<text x="369.6" y="702.7" font-size="11.5" text-anchor="start" fill="#111111" stroke="#111111" stroke-width="0.3" textLength="124.2" lengthAdjust="spacingAndGlyphs">weeks after engraftment</text>
<path d="M368.9,705.4 Q369.9,712.8 379.9,712.8 L425.3,712.8 Q431.3,712.8 431.3,718.8 Q431.3,712.8 437.3,712.8 L486,712.8 Q496,712.8 497,705.4" fill="none" stroke="#222" stroke-width="1"/>
<text x="400" y="730.7" font-size="11.5" text-anchor="start" fill="#111111" stroke="#111111" stroke-width="0.3" textLength="65" lengthAdjust="spacingAndGlyphs">TPO<tspan font-size="7.8" dy="-4.2">high</tspan><tspan dy="4.2"> mice</tspan></text>
<text x="337.4" y="672.3" font-size="11.9" text-anchor="middle" fill="#111111" stroke="#111111" stroke-width="0.3" textLength="28.6" lengthAdjust="spacingAndGlyphs">&lt;31,2</text>
<!-- panel G -->
<line x1="69.5" y1="922" x2="69.5" y2="920" stroke="#6e6e6e" stroke-width="1"/>
<line x1="68.1" y1="920.2" x2="70.9" y2="920.2" stroke="#6e6e6e" stroke-width="0.9"/>
<rect x="59.3" y="922" width="20.9" height="25.4" fill="#595959" stroke="#4c4c4c" stroke-width="0.9"/>
<line x1="90.5" y1="923.8" x2="90.5" y2="919.3" stroke="#6e6e6e" stroke-width="1"/>
<line x1="89.1" y1="919.5" x2="91.9" y2="919.5" stroke="#6e6e6e" stroke-width="0.9"/>
<rect x="80.2" y="923.8" width="20.9" height="23.6" fill="#ffffff" stroke="#636363" stroke-width="0.9"/>
<line x1="132.5" y1="820.8" x2="132.5" y2="801.8" stroke="#6e6e6e" stroke-width="1"/>
<line x1="131.1" y1="802" x2="133.9" y2="802" stroke="#6e6e6e" stroke-width="0.9"/>
<rect x="122.5" y="820.8" width="20.9" height="126.6" fill="#595959" stroke="#4c4c4c" stroke-width="0.9"/>
<line x1="153.5" y1="815" x2="153.5" y2="800.8" stroke="#6e6e6e" stroke-width="1"/>
<line x1="152.1" y1="801" x2="154.9" y2="801" stroke="#6e6e6e" stroke-width="0.9"/>
<rect x="143.4" y="815" width="20.9" height="132.4" fill="#ffffff" stroke="#636363" stroke-width="0.9"/>
<line x1="196.5" y1="827.5" x2="196.5" y2="812.5" stroke="#6e6e6e" stroke-width="1"/>
<line x1="195.1" y1="812.7" x2="197.9" y2="812.7" stroke="#6e6e6e" stroke-width="0.9"/>
<rect x="185.5" y="827.5" width="21" height="119.9" fill="#595959" stroke="#4c4c4c" stroke-width="0.9"/>
<line x1="217.5" y1="843.8" x2="217.5" y2="831.3" stroke="#6e6e6e" stroke-width="1"/>
<line x1="216.1" y1="831.5" x2="218.9" y2="831.5" stroke="#6e6e6e" stroke-width="0.9"/>
<rect x="206.5" y="843.8" width="21" height="103.6" fill="#ffffff" stroke="#636363" stroke-width="0.9"/>
<line x1="48.5" y1="791.1" x2="48.5" y2="950" stroke="#848484" stroke-width="1"/>
<line x1="46.3" y1="947.4" x2="238.3" y2="947.4" stroke="#848484" stroke-width="1"/>
<line x1="46.5" y1="791.1" x2="48.5" y2="791.1" stroke="#848484" stroke-width="1"/>
<text x="40.3" y="795.6" font-size="11.5" text-anchor="end" fill="#111111" stroke="#111111" stroke-width="0.3">100</text>
<line x1="46.5" y1="822.36" x2="48.5" y2="822.36" stroke="#848484" stroke-width="1"/>
<text x="40.3" y="826.52" font-size="11.5" text-anchor="end" fill="#111111" stroke="#111111" stroke-width="0.3">80</text>
<line x1="46.5" y1="853.62" x2="48.5" y2="853.62" stroke="#848484" stroke-width="1"/>
<text x="40.3" y="857.44" font-size="11.5" text-anchor="end" fill="#111111" stroke="#111111" stroke-width="0.3">60</text>
<line x1="46.5" y1="884.88" x2="48.5" y2="884.88" stroke="#848484" stroke-width="1"/>
<text x="40.3" y="888.36" font-size="11.5" text-anchor="end" fill="#111111" stroke="#111111" stroke-width="0.3">40</text>
<line x1="46.5" y1="916.14" x2="48.5" y2="916.14" stroke="#848484" stroke-width="1"/>
<text x="40.3" y="919.28" font-size="11.5" text-anchor="end" fill="#111111" stroke="#111111" stroke-width="0.3">20</text>
<line x1="46.5" y1="947.4" x2="48.5" y2="947.4" stroke="#848484" stroke-width="1"/>
<text x="40.3" y="950.2" font-size="11.5" text-anchor="end" fill="#111111" stroke="#111111" stroke-width="0.3">0</text>
<line x1="111.7" y1="947.4" x2="111.7" y2="949.9" stroke="#848484" stroke-width="1"/>
<line x1="175" y1="947.4" x2="175" y2="949.9" stroke="#848484" stroke-width="1"/>
<line x1="238.3" y1="947.4" x2="238.3" y2="949.9" stroke="#848484" stroke-width="1"/>
<text x="9.25" y="772.7" font-size="25.2" text-anchor="start" fill="#000" stroke="#000" stroke-width="0.5" font-weight="bold">G</text>
<text x="18" y="870" font-size="13.2" text-anchor="middle" fill="#111111" stroke="#111111" stroke-width="0.3" textLength="118" lengthAdjust="spacingAndGlyphs" transform="rotate(-90 18 870)">total TGF-β1 (ng/ml)</text>
<text x="93.3" y="791.3" font-size="13" text-anchor="start" fill="#111111" stroke="#111111" stroke-width="0.3" textLength="92.1" lengthAdjust="spacingAndGlyphs">Fluids of spleen</text>
<path d="M59.3,947.4 Q59.3,954 63.2,954 L76,954 Q80,954 80,959.6 Q80,954 84,954 L97.4,954 Q101.3,954 101.3,947.4" fill="none" stroke="#222" stroke-width="1"/>
<text x="80.6" y="971.7" font-size="11.5" text-anchor="middle" fill="#111111" stroke="#111111" stroke-width="0.3" textLength="34.2" lengthAdjust="spacingAndGlyphs">control</text>
<text x="80.6" y="985.5" font-size="11.5" text-anchor="middle" fill="#111111" stroke="#111111" stroke-width="0.3" textLength="23.3" lengthAdjust="spacingAndGlyphs">mice</text>
<text x="143.3" y="959.8" font-size="11.5" text-anchor="middle" fill="#111111" stroke="#111111" stroke-width="0.3">8</text>
<text x="206.8" y="959.8" font-size="11.5" text-anchor="middle" fill="#111111" stroke="#111111" stroke-width="0.3">12</text>
<text x="112.6" y="972.1" font-size="11.5" text-anchor="start" fill="#111111" stroke="#111111" stroke-width="0.3" textLength="124.4" lengthAdjust="spacingAndGlyphs">weeks after engraftment</text>
<path d="M111.3,974.8 Q112.3,982.2 122.3,982.2 L169,982.2 Q175,982.2 175,988.2 Q175,982.2 181,982.2 L227.5,982.2 Q237.5,982.2 238.5,974.8" fill="none" stroke="#222" stroke-width="1"/>
<text x="142" y="999.6" font-size="11.5" text-anchor="start" fill="#111111" stroke="#111111" stroke-width="0.3" textLength="65.5" lengthAdjust="spacingAndGlyphs">TPO<tspan font-size="7.8" dy="-4.2">high</tspan><tspan dy="4.2"> mice</tspan></text>
<!-- panel H -->
<line x1="395.5" y1="821.3" x2="395.5" y2="806.3" stroke="#6e6e6e" stroke-width="1"/>
<line x1="394.1" y1="806.5" x2="396.9" y2="806.5" stroke="#6e6e6e" stroke-width="0.9"/>
<rect x="385" y="821.3" width="21.6" height="125.8" fill="#595959" stroke="#4c4c4c" stroke-width="0.9"/>
<line x1="417.5" y1="838.8" x2="417.5" y2="819.5" stroke="#6e6e6e" stroke-width="1"/>
<line x1="416.1" y1="819.7" x2="418.9" y2="819.7" stroke="#6e6e6e" stroke-width="0.9"/>
<rect x="406.6" y="838.8" width="21.6" height="108.3" fill="#ffffff" stroke="#636363" stroke-width="0.9"/>
<line x1="460.5" y1="853.8" x2="460.5" y2="840" stroke="#6e6e6e" stroke-width="1"/>
<line x1="459.1" y1="840.2" x2="461.9" y2="840.2" stroke="#6e6e6e" stroke-width="0.9"/>
<rect x="449.3" y="853.8" width="21.6" height="93.3" fill="#595959" stroke="#4c4c4c" stroke-width="0.9"/>
<line x1="481.5" y1="842" x2="481.5" y2="827" stroke="#6e6e6e" stroke-width="1"/>
<line x1="480.1" y1="827.2" x2="482.9" y2="827.2" stroke="#6e6e6e" stroke-width="0.9"/>
<rect x="470.9" y="842" width="21.6" height="105.1" fill="#ffffff" stroke="#636363" stroke-width="0.9"/>
<line x1="309.9" y1="792" x2="309.9" y2="949.7" stroke="#848484" stroke-width="1"/>
<line x1="307.7" y1="947.1" x2="503.2" y2="947.1" stroke="#848484" stroke-width="1"/>
<line x1="307.9" y1="792" x2="309.9" y2="792" stroke="#848484" stroke-width="1"/>
<text x="306.4" y="794.7" font-size="11.5" text-anchor="end" fill="#111111" stroke="#111111" stroke-width="0.3">271,2</text>
<line x1="307.9" y1="830.77" x2="309.9" y2="830.77" stroke="#848484" stroke-width="1"/>
<text x="306.4" y="833.53" font-size="11.5" text-anchor="end" fill="#111111" stroke="#111111" stroke-width="0.3">211,2</text>
<line x1="307.9" y1="869.55" x2="309.9" y2="869.55" stroke="#848484" stroke-width="1"/>
<text x="306.4" y="872.35" font-size="11.5" text-anchor="end" fill="#111111" stroke="#111111" stroke-width="0.3">151,2</text>
<line x1="307.9" y1="908.33" x2="309.9" y2="908.33" stroke="#848484" stroke-width="1"/>
<text x="306.4" y="911.17" font-size="11.5" text-anchor="end" fill="#111111" stroke="#111111" stroke-width="0.3">91,2</text>
<line x1="307.9" y1="947.1" x2="309.9" y2="947.1" stroke="#848484" stroke-width="1"/>
<text x="306.4" y="950" font-size="11.5" text-anchor="end" fill="#111111" stroke="#111111" stroke-width="0.3">31,2</text>
<line x1="374.3" y1="947.1" x2="374.3" y2="949.6" stroke="#848484" stroke-width="1"/>
<line x1="438.5" y1="947.1" x2="438.5" y2="949.6" stroke="#848484" stroke-width="1"/>
<line x1="503.2" y1="947.1" x2="503.2" y2="949.6" stroke="#848484" stroke-width="1"/>
<text x="275.5" y="772.2" font-size="24.8" text-anchor="start" fill="#000" stroke="#000" stroke-width="0.5" font-weight="bold">H</text>
<text x="268.5" y="870.4" font-size="13.1" text-anchor="middle" fill="#111111" stroke="#111111" stroke-width="0.3" textLength="127" lengthAdjust="spacingAndGlyphs" transform="rotate(-90 268.5 870.4)">active TGF-β1 (pg/ml)</text>
<text x="358.1" y="791.3" font-size="13" text-anchor="start" fill="#111111" stroke="#111111" stroke-width="0.3" textLength="92.3" lengthAdjust="spacingAndGlyphs">Fluids of spleen</text>
<path d="M316.8,947.1 Q316.8,953.7 320.7,953.7 L333.5,953.7 Q337.5,953.7 337.5,959.3 Q337.5,953.7 341.5,953.7 L354.9,953.7 Q358.8,953.7 358.8,947.1" fill="none" stroke="#222" stroke-width="1"/>
<text x="337.9" y="971.6" font-size="11.5" text-anchor="middle" fill="#111111" stroke="#111111" stroke-width="0.3" textLength="34.2" lengthAdjust="spacingAndGlyphs">control</text>
<text x="337.9" y="986.1" font-size="11.5" text-anchor="middle" fill="#111111" stroke="#111111" stroke-width="0.3" textLength="23.3" lengthAdjust="spacingAndGlyphs">mice</text>
<text x="407.2" y="959.5" font-size="11.5" text-anchor="middle" fill="#111111" stroke="#111111" stroke-width="0.3">8</text>
<text x="470.8" y="959.5" font-size="11.5" text-anchor="middle" fill="#111111" stroke="#111111" stroke-width="0.3">12</text>
<text x="369.8" y="971.8" font-size="11.5" text-anchor="start" fill="#111111" stroke="#111111" stroke-width="0.3" textLength="124.5" lengthAdjust="spacingAndGlyphs">weeks after engraftment</text>
<path d="M368.5,974.7 Q369.5,982.1 379.5,982.1 L428.5,982.1 Q434.5,982.1 434.5,988.1 Q434.5,982.1 440.5,982.1 L486,982.1 Q496,982.1 497,974.7" fill="none" stroke="#222" stroke-width="1"/>
<text x="399.3" y="999.5" font-size="11.5" text-anchor="start" fill="#111111" stroke="#111111" stroke-width="0.3" textLength="65.7" lengthAdjust="spacingAndGlyphs">TPO<tspan font-size="7.8" dy="-4.2">high</tspan><tspan dy="4.2"> mice</tspan></text>
<text x="337.3" y="941.1" font-size="11.9" text-anchor="middle" fill="#111111" stroke="#111111" stroke-width="0.3" textLength="28.7" lengthAdjust="spacingAndGlyphs">&lt;31,2</text>
</svg>
</body></html>
